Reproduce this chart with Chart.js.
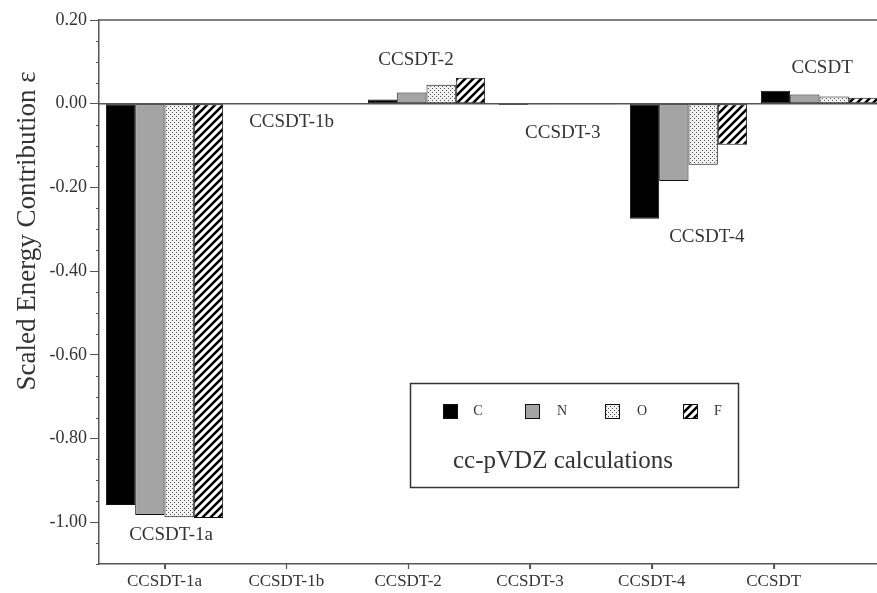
<!DOCTYPE html>
<html>
<head>
<meta charset="utf-8">
<script src="https://cdn.jsdelivr.net/npm/chart.js@4.4.0/dist/chart.umd.min.js"></script>
<style>
  body { margin: 0; background: #fff; overflow: hidden; }
  #wrap { width: 877px; height: 593px; overflow: hidden; }
</style>
</head>
<body>
<div id="wrap"><canvas id="myChart" width="885" height="593"></canvas></div>
<script>
// chart data
const categories = ['CCSDT-1a', 'CCSDT-1b', 'CCSDT-2', 'CCSDT-3', 'CCSDT-4', 'CCSDT'];
const atoms = ['C', 'N', 'O', 'F'];
const valuesC = [-0.959, 0.000, 0.010, -0.003, -0.275, 0.031];
const valuesN = [-0.983, 0.000, 0.027, -0.001, -0.185, 0.022];
const valuesO = [-0.988, 0.000, 0.045, -0.001, -0.146, 0.017];
const valuesF = [-0.990, 0.000, 0.062, -0.001, -0.098, 0.014];
const yTicks = [0.20, 0.00, -0.20, -0.40, -0.60, -0.80, -1.00];
const yTitle = 'Scaled Energy Contribution \u03b5';
const legendTitle = 'cc-pVDZ calculations';

// text labels inside the plot (x in category units, y in data units)
const notes = [
  { text: 'CCSDT-1a', x: 0.05, y: -1.03 },
  { text: 'CCSDT-1b', x: 0.97, y: -0.043 },
  { text: 'CCSDT-2', x: 1.92, y: 0.105 },
  { text: 'CCSDT-3', x: 3.04, y: -0.069 },
  { text: 'CCSDT-4', x: 4.14, y: -0.318 },
  { text: 'CCSDT', x: 5.02, y: 0.086 },
];

// bottom labels are spaced a bit tighter than the bar groups
const labelStep = 0.93;

const serif = '"Liberation Serif", "Times New Roman", serif';
const ink = '#333';

function makePattern(draw) {
  const c = document.createElement('canvas');
  c.width = 8; c.height = 8;
  const g = c.getContext('2d');
  g.fillStyle = '#fff';
  g.fillRect(0, 0, 8, 8);
  draw(g);
  return g.createPattern(c, 'repeat');
}

const dots = makePattern(g => {
  g.fillStyle = '#f2f2f2';
  g.fillRect(0, 0, 8, 8);
  g.fillStyle = '#555';
  [[0, 0], [4, 0], [2, 2], [6, 2], [0, 4], [4, 4], [2, 6], [6, 6]].forEach(p => g.fillRect(p[0], p[1], 1, 1));
});

const hatch = makePattern(g => {
  g.strokeStyle = '#000';
  g.lineWidth = 2.6;
  g.beginPath();
  g.moveTo(-1, 9); g.lineTo(9, -1);
  g.moveTo(-1, 1); g.lineTo(1, -1);
  g.moveTo(7, 9); g.lineTo(9, 7);
  g.stroke();
});

const fills = ['#000', '#a4a4a4', dots, hatch];
const series = [valuesC, valuesN, valuesO, valuesF];

const data = {
  labels: categories,
  datasets: atoms.map((a, i) => ({
    label: a,
    data: series[i],
    backgroundColor: fills[i],
    borderColor: '#111',
    borderWidth: 1,
    borderSkipped: false,
    categoryPercentage: 0.895,
    barPercentage: 1.0,
    xAxisID: 'x',
  }))
};

const framePlugin = {
  id: 'frame',
  beforeDatasetsDraw(chart) {
    const { ctx, chartArea } = chart;
    const y0 = chart.scales.y.getPixelForValue(0);
    ctx.save();
    ctx.strokeStyle = '#555';
    ctx.lineWidth = 1.5;
    ctx.beginPath();
    ctx.moveTo(chartArea.left, y0);
    ctx.lineTo(chartArea.right, y0);
    ctx.stroke();
    ctx.restore();
  },
  afterDraw(chart) {
    const { ctx, chartArea } = chart;
    const ys = chart.scales.y;
    const xs = chart.scales.x;
    const xl = chart.scales.xl;
    ctx.save();

    // top border
    ctx.strokeStyle = '#555';
    ctx.lineWidth = 1.5;
    ctx.beginPath();
    ctx.moveTo(chartArea.left, chartArea.top);
    ctx.lineTo(chartArea.right, chartArea.top);
    ctx.stroke();

    // minor ticks on the y axis
    ctx.lineWidth = 1;
    for (let k = -22; k <= 4; k++) {
      if (k % 4 === 0) continue;
      const py = Math.round(ys.getPixelForValue(k * 0.05)) + 0.5;
      ctx.beginPath();
      ctx.moveTo(chartArea.left - 3, py);
      ctx.lineTo(chartArea.left, py);
      ctx.stroke();
    }

    // tick marks under the bottom axis
    ctx.lineWidth = 1.2;
    xl.ticks.forEach(t => {
      const px = Math.round(xl.getPixelForValue(t.value)) + 0.5;
      ctx.beginPath();
      ctx.moveTo(px, chartArea.bottom);
      ctx.lineTo(px, chartArea.bottom + 5);
      ctx.stroke();
    });

    // notes
    ctx.fillStyle = ink;
    ctx.font = '19px ' + serif;
    ctx.textAlign = 'center';
    ctx.textBaseline = 'middle';
    notes.forEach(n => {
      const px = xs.getPixelForValue(0) + n.x * (xs.getPixelForValue(1) - xs.getPixelForValue(0));
      ctx.fillText(n.text, px, ys.getPixelForValue(n.y));
    });

    // y title
    ctx.save();
    ctx.translate(28, 231);
    ctx.rotate(-Math.PI / 2);
    ctx.font = '27px ' + serif;
    ctx.fillText(yTitle, 0, 0);
    ctx.restore();

    // legend box
    ctx.strokeStyle = '#333';
    ctx.lineWidth = 1.5;
    ctx.strokeRect(410.5, 383.5, 328, 104);
    const sx = [443, 525, 605, 683];
    const tx = [478, 562, 642, 718];
    ctx.lineWidth = 1;
    ctx.font = '14px ' + serif;
    atoms.forEach((a, i) => {
      ctx.fillStyle = fills[i];
      ctx.fillRect(sx[i], 404, 15, 15);
      ctx.strokeStyle = '#111';
      ctx.strokeRect(sx[i] + 0.5, 404.5, 14, 14);
      ctx.fillStyle = ink;
      ctx.fillText(a, tx[i], 411);
    });
    ctx.textAlign = 'left';
    ctx.font = '25px ' + serif;
    ctx.fillText(legendTitle, 453, 461);

    ctx.restore();
  }
};

const config = {
  type: 'bar',
  data: data,
  options: {
    responsive: false,
    animation: false,
    devicePixelRatio: 1,
    layout: { padding: { top: 20, right: 0, bottom: 0, left: 0 } },
    scales: {
      x: {
        type: 'category',
        display: false,
      },
      xl: {
        type: 'linear',
        position: 'bottom',
        min: -0.5,
        max: 5.5,
        offset: false,
        afterBuildTicks: (axis) => {
          axis.ticks = categories.map((c, i) => ({ value: i * labelStep }));
        },
        afterFit: (axis) => { axis.height = 29; },
        grid: {
          offset: false,
          drawOnChartArea: false,
          drawTicks: true,
          tickLength: 5,
          tickColor: '#555',
        },
        border: { display: true, color: '#555', width: 1.5 },
        ticks: {
          autoSkip: false,
          maxRotation: 0,
          padding: 2,
          color: ink,
          font: { family: serif, size: 17 },
          callback: (v, i) => categories[i],
        },
      },
      y: {
        min: -1.10,
        max: 0.20,
        afterBuildTicks: (axis) => {
          axis.ticks = yTicks.map(v => ({ value: v }));
        },
        afterFit: (axis) => { axis.width = 99; },
        grid: {
          drawOnChartArea: false,
          drawTicks: true,
          tickLength: 9,
          tickColor: '#555',
        },
        border: { display: true, color: '#555', width: 1.5 },
        ticks: {
          padding: 3,
          color: ink,
          font: { family: serif, size: 18 },
          callback: (v) => v.toFixed(2),
        },
      },
    },
    plugins: {
      legend: { display: false },
      tooltip: { enabled: false },
    },
  },
  plugins: [framePlugin],
};

const myChart = new Chart(document.getElementById('myChart'), config);
</script>
</body>
</html>
